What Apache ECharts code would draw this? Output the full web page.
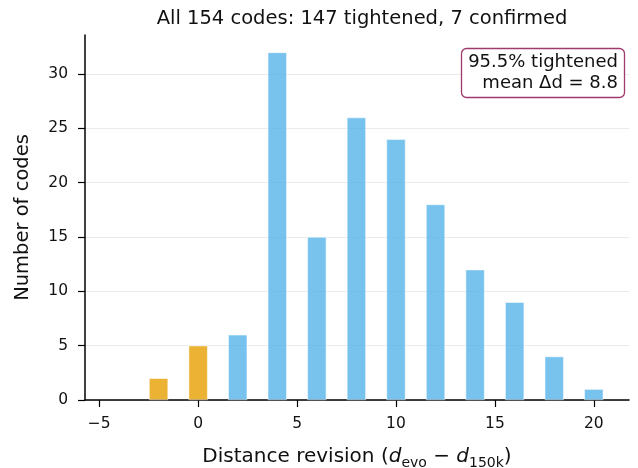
<!DOCTYPE html>
<html>
<head>
<meta charset="utf-8">
<script src="https://cdn.jsdelivr.net/npm/echarts@6/dist/echarts.min.js"></script>
<style>
  html, body { margin: 0; padding: 0; background: #fff; }
  #chart { width: 638px; height: 468px; }
</style>
</head>
<body>
<div id="chart"></div>
<script>
// histogram bins (distance revision) and counts
const binCenters = [-2, 0, 2, 4, 6, 8, 10, 12, 14, 16, 18, 20]
const counts = [2, 5, 6, 32, 15, 26, 24, 18, 12, 9, 4, 1]
const xTicks = [-5, 0, 5, 10, 15, 20]
const yTicks = [0, 5, 10, 15, 20, 25, 30]

const FONT = 'DejaVu Sans'
const confirmedColor = 'rgba(230,159,0,0.8)'
const tightenedColor = 'rgba(86,180,233,0.8)'

const fmtMinus = (v) => (v < 0 ? '\u2212' + Math.abs(v) : String(v))

const barData = binCenters.map((x, i) => ({
  value: [x, counts[i]],
  itemStyle: { color: x <= 0 ? confirmedColor : tightenedColor }
}))

const chart = echarts.init(document.getElementById('chart'))

chart.setOption({
  animation: false,
  textStyle: { fontFamily: FONT },
  title: [{
    text: 'All 154 codes: 147 tightened, 7 confirmed',
    left: 357,
    textAlign: 'center',
    top: 4,
    textStyle: { fontFamily: FONT, fontSize: 19.5, fontWeight: 'normal', color: '#111' }
  }, {
    // annotation box
    text: '95.5% tightened\nmean \u0394d = 8.8',
    left: 611,
    textAlign: 'right',
    top: 48,
    padding: [4, 7, 4, 7],
    backgroundColor: '#fff',
    borderColor: '#9e3a6c',
    borderWidth: 1.3,
    borderRadius: 5,
    textStyle: { fontFamily: FONT, fontSize: 18, fontWeight: 'normal', color: '#111', lineHeight: 21 }
  }],
  grid: { left: 85, right: 9, top: 35, bottom: 68, outerBoundsMode: 'none' },
  xAxis: {
    type: 'value',
    min: -5.72,
    max: 21.78,
    name: '{n|Distance revision (}{i|d}{s|evo}{n| \u2212 }{i|d}{s|150k}{n|)}',
    nameLocation: 'middle',
    nameGap: 44,
    nameTextStyle: {
      rich: {
        n: { fontFamily: FONT, fontSize: 20, color: '#111' },
        i: { fontFamily: FONT, fontSize: 20, fontStyle: 'italic', color: '#111' },
        s: { fontFamily: FONT, fontSize: 14, color: '#111', verticalAlign: 'top', padding: [12, 0, 0, 0] }
      }
    },
    axisLine: { onZero: false, lineStyle: { color: '#000', width: 1.5 } },
    axisTick: { show: true, length: 7, lineStyle: { color: '#000', width: 1.2 }, customValues: xTicks },
    axisLabel: { customValues: xTicks, formatter: fmtMinus, fontSize: 15.5, color: '#111', margin: 16 },
    splitLine: { show: false }
  },
  yAxis: {
    type: 'value',
    min: 0,
    max: 33.6,
    name: 'Number of codes',
    nameLocation: 'middle',
    nameGap: 52,
    nameTextStyle: { fontFamily: FONT, fontSize: 19.5, color: '#111' },
    axisLine: { show: true, onZero: false, lineStyle: { color: '#000', width: 1.5 } },
    axisTick: { show: true, length: 7, lineStyle: { color: '#000', width: 1.2 }, customValues: yTicks },
    axisLabel: { customValues: yTicks, fontSize: 15.5, color: '#111', margin: 17 },
    splitLine: { show: true, lineStyle: { color: '#ebebeb', width: 1 } }
  },
  series: [{
    type: 'bar',
    barWidth: 19,
    data: barData,
    itemStyle: { borderColor: '#fff', borderWidth: 0.5 }
  }]
})
</script>
</body>
</html>
